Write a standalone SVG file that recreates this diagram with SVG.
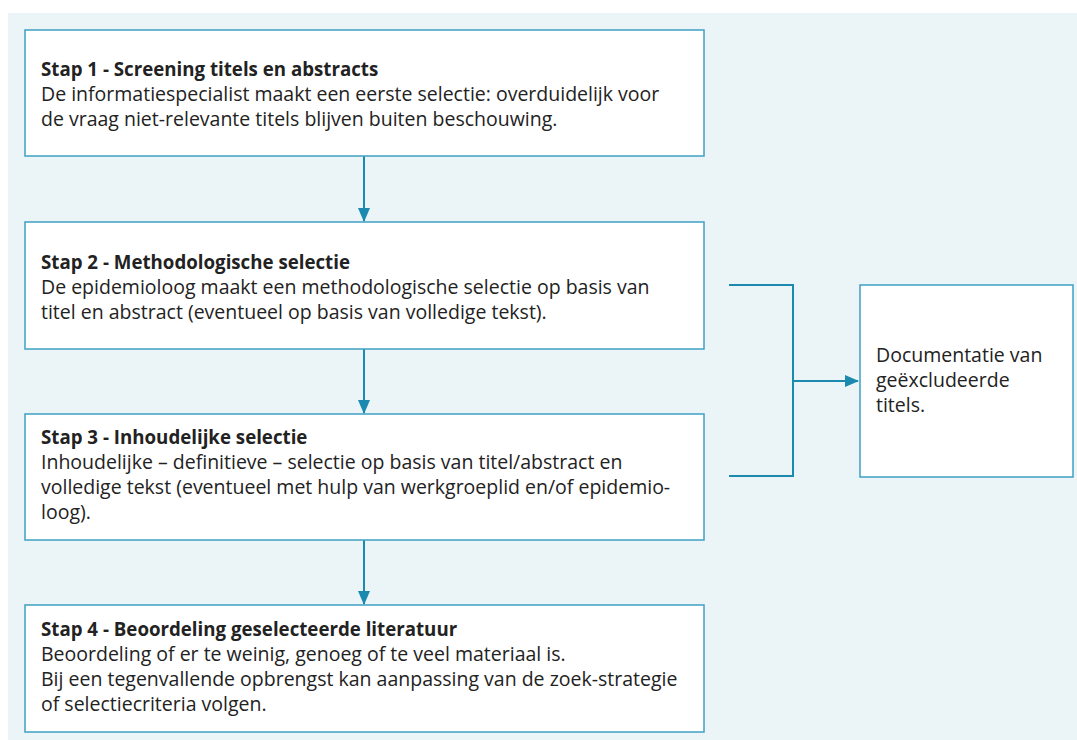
<svg xmlns="http://www.w3.org/2000/svg" width="1077" height="740" viewBox="0 0 1077 740">
<style>
.bg{fill:#EBF4F7}
.box{fill:#fff;stroke:#3FA0C4;stroke-width:1.5}
.t{font-family:"Open Sans","Liberation Sans",sans-serif;font-size:19.5px;fill:#222}
.b{font-weight:bold;font-size:18.7px}
.c{fill:none;stroke:#1C89AE;stroke-width:2}
</style>
<defs>
<marker id="ah" markerWidth="14" markerHeight="14" viewBox="0 0 14 14" refX="13" refY="7" orient="auto" markerUnits="userSpaceOnUse">
<path d="M0,1 L14,7 L0,13 Z" fill="#1C89AE"/>
</marker>
</defs>
<rect class="bg" x="8" y="13" width="1069" height="727"/>
<g id="connectors">
<line class="c" x1="364" y1="156" x2="364" y2="221" marker-end="url(#ah)"/>
<line class="c" x1="364" y1="349" x2="364" y2="413" marker-end="url(#ah)"/>
<line class="c" x1="364" y1="540" x2="364" y2="604" marker-end="url(#ah)"/>
<polyline class="c" points="729,285 793,285 793,476 729,476"/>
<line class="c" x1="793" y1="381" x2="858" y2="381" marker-end="url(#ah)"/>
</g>
<g id="step1">
<rect class="box" x="25" y="30" width="679" height="126"/>
<text class="t b" x="41" y="76">Stap 1 - Screening titels en abstracts</text>
<text class="t" x="41" y="101">De informatiespecialist maakt een eerste selectie: overduidelijk voor</text>
<text class="t" x="41" y="126">de vraag niet-relevante titels blijven buiten beschouwing.</text>
</g>
<g id="step2">
<rect class="box" x="25" y="222" width="679" height="127"/>
<text class="t b" x="41" y="269">Stap 2 - Methodologische selectie</text>
<text class="t" x="41" y="294">De epidemioloog maakt een methodologische selectie op basis van</text>
<text class="t" x="41" y="319">titel en abstract (eventueel op basis van volledige tekst).</text>
</g>
<g id="step3">
<rect class="box" x="25" y="414" width="679" height="126"/>
<text class="t b" x="41" y="444">Stap 3 - Inhoudelijke selectie</text>
<text class="t" x="41" y="469">Inhoudelijke – definitieve – selectie op basis van titel/abstract en</text>
<text class="t" x="41" y="494">volledige tekst (eventueel met hulp van werkgroeplid en/of epidemio-</text>
<text class="t" x="41" y="519">loog).</text>
</g>
<g id="step4">
<rect class="box" x="25" y="605" width="679" height="127"/>
<text class="t b" x="41" y="636">Stap 4 - Beoordeling geselecteerde literatuur</text>
<text class="t" x="41" y="661">Beoordeling of er te weinig, genoeg of te veel materiaal is.</text>
<text class="t" x="41" y="686">Bij een tegenvallende opbrengst kan aanpassing van de zoek-strategie</text>
<text class="t" x="41" y="711">of selectiecriteria volgen.</text>
</g>
<g id="documentatie">
<rect class="box" x="860" y="285" width="213" height="192"/>
<text class="t" x="876" y="362">Documentatie van</text>
<text class="t" x="876" y="387">geëxcludeerde</text>
<text class="t" x="876" y="412">titels.</text>
</g>
</svg>
